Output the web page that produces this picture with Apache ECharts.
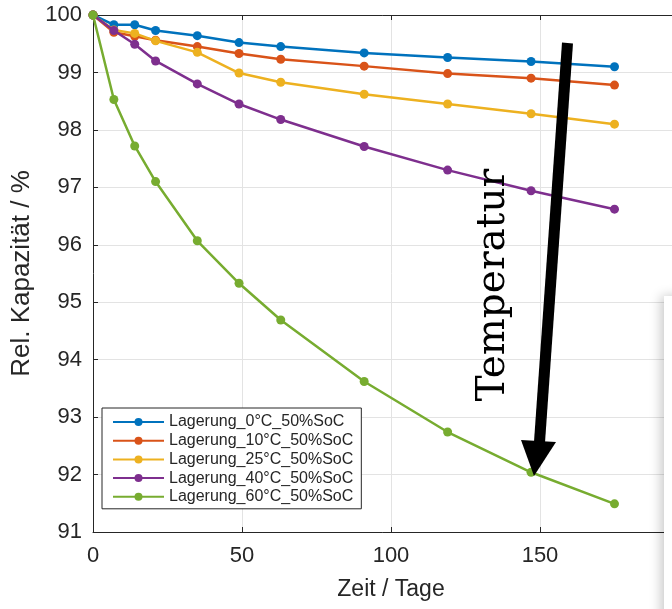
<!DOCTYPE html>
<html>
<head>
<meta charset="utf-8">
<script src="https://cdn.jsdelivr.net/npm/echarts@6/dist/echarts.min.js"></script>
<style>
html,body{margin:0;padding:0;background:#fff;}
#chart{width:672px;height:609px;}
</style>
</head>
<body>
<div id="chart"></div>
<script>
// ---- data ----
var days = [0, 7, 14, 21, 35, 49, 63, 91, 119, 147, 175];
var seriesNames = ['Lagerung_0°C_50%SoC', 'Lagerung_10°C_50%SoC', 'Lagerung_25°C_50%SoC', 'Lagerung_40°C_50%SoC', 'Lagerung_60°C_50%SoC'];
var cap0  = [100, 99.83, 99.83, 99.73, 99.64, 99.52, 99.45, 99.34, 99.26, 99.19, 99.10];
var cap10 = [100, 99.70, 99.63, 99.56, 99.45, 99.33, 99.23, 99.11, 98.98, 98.90, 98.78];
var cap25 = [100, 99.74, 99.68, 99.55, 99.35, 98.99, 98.83, 98.62, 98.45, 98.28, 98.10];
var cap40 = [100, 99.73, 99.49, 99.20, 98.80, 98.45, 98.18, 97.71, 97.30, 96.94, 96.62];
var cap60 = [100, 98.53, 97.72, 97.10, 96.07, 95.33, 94.69, 93.62, 92.74, 92.04, 91.49];
var xTicks = [0, 50, 100, 150];
var yTicks = [91, 92, 93, 94, 95, 96, 97, 98, 99, 100];
var xTitle = 'Zeit / Tage';
var yTitle = 'Rel. Kapazität / %';
var annotation = 'Temperatur';

var colors = ['#0072BD', '#D95319', '#EDB120', '#7E2F8E', '#77AC30'];
var allValues = [cap0, cap10, cap25, cap40, cap60];

function pairs(vals) {
  return days.map(function (d, i) { return [d, vals[i]]; });
}

var axisColor = '#262626';
var sansFont = "'Liberation Sans', Arial, sans-serif";

var chart = echarts.init(document.getElementById('chart'), null, {renderer: 'canvas'});

var series = seriesNames.map(function (name, i) {
  return {
    name: name,
    type: 'line',
    data: pairs(allValues[i]),
    symbol: 'circle',
    symbolSize: 9,
    showSymbol: true,
    lineStyle: {width: 2.5, color: colors[i]},
    itemStyle: {color: colors[i]},
    animation: false,
    z: 3 + i
  };
});

var option = {
  backgroundColor: '#ffffff',
  animation: false,
  grid: {left: 93, top: 15, right: -17, bottom: 77, containLabel: false, outerBoundsMode: 'none'},
  legend: {
    orient: 'vertical',
    left: 102,
    top: 408,
    data: seriesNames,
    backgroundColor: '#ffffff',
    borderColor: axisColor,
    borderWidth: 1,
    borderRadius: 0,
    padding: [5, 8, 3, 10],
    itemWidth: 51,
    itemHeight: 10,
    itemGap: 0.7,
    textStyle: {fontFamily: sansFont, fontSize: 16, color: axisColor, lineHeight: 18},
    selectedMode: false,
    z: 10
  },
  xAxis: [{
    type: 'value',
    min: 0,
    max: 200,
    interval: 50,
    position: 'bottom',
    name: xTitle,
    nameLocation: 'middle',
    nameGap: 46,
    nameTextStyle: {fontFamily: sansFont, fontSize: 23, color: axisColor},
    axisLine: {show: true, onZero: false, lineStyle: {color: axisColor, width: 1}},
    axisTick: {show: true, inside: true, length: 5, lineStyle: {color: axisColor}},
    axisLabel: {
      show: true, margin: 13, fontFamily: sansFont, fontSize: 22, color: axisColor,
      formatter: function (v) { return xTicks.indexOf(v) >= 0 ? String(v) : ''; }
    },
    splitLine: {show: true, lineStyle: {color: '#e3e3e3', width: 1}}
  }, {
    type: 'value',
    min: 0,
    max: 200,
    interval: 50,
    position: 'top',
    axisLine: {show: true, onZero: false, lineStyle: {color: axisColor, width: 1}},
    axisTick: {show: true, inside: true, length: 5, lineStyle: {color: axisColor}},
    axisLabel: {show: false},
    splitLine: {show: false}
  }],
  yAxis: [{
    type: 'value',
    min: 91,
    max: 100,
    interval: 1,
    name: yTitle,
    nameLocation: 'middle',
    nameGap: 53,
    nameTextStyle: {fontFamily: sansFont, fontSize: 26, color: axisColor},
    axisLine: {show: true, onZero: false, lineStyle: {color: axisColor, width: 1}},
    axisTick: {show: true, inside: true, length: 5, lineStyle: {color: axisColor}},
    axisLabel: {
      show: true, margin: 11, fontFamily: sansFont, fontSize: 22, color: axisColor,
      formatter: function (v) { return yTicks.indexOf(v) >= 0 ? String(v) : ''; }
    },
    splitLine: {show: true, lineStyle: {color: '#e3e3e3', width: 1}}
  }],
  series: series,
  graphic: [
    {
      type: 'rect',
      shape: {x: 664, y: 296, width: 30, height: 330},
      style: {fill: '#ffffff', shadowBlur: 12, shadowColor: 'rgba(0,0,0,0.22)', shadowOffsetX: -3},
      z: 20
    },
    {
      type: 'text',
      x: 494,
      y: 285,
      rotation: Math.PI / 2,
      style: {
        text: annotation,
        fontFamily: "'DejaVu Serif', 'Liberation Serif', serif",
        fontSize: 39,
        fill: '#000000',
        textAlign: 'center',
        textVerticalAlign: 'middle'
      },
      z: 30
    },
    {
      type: 'polygon',
      shape: {points: [[562, 42.6], [573, 43.4], [545, 442.4], [534, 441.6]]},
      style: {fill: '#000000'},
      z: 30
    },
    {
      type: 'polygon',
      shape: {points: [[521, 440], [556, 442], [534, 476]]},
      style: {fill: '#000000'},
      z: 30
    }
  ]
};

chart.setOption(option);
</script>
</body>
</html>
